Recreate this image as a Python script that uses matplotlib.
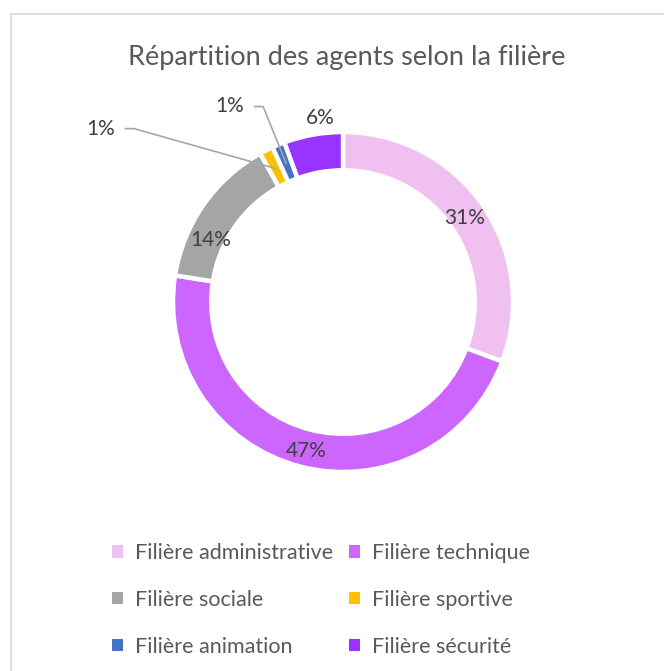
import matplotlib.pyplot as plt
from matplotlib.lines import Line2D
from matplotlib.patches import Patch
import numpy as np

plt.rcParams['font.family'] = ['Lato', 'DejaVu Sans']

# =========================
# Data
# =========================
filieres = ['Filière administrative', 'Filière technique', 'Filière sociale',
            'Filière sportive', 'Filière animation', 'Filière sécurité']
parts = [30.7, 46.8, 14.4, 1.3, 1.2, 5.6]
colors = ['#F0C0F0', '#CC66FF', '#A5A5A5', '#FFC000', '#4472C4', '#9933FF']

text_color = '#595959'
title = 'Répartition des agents selon la filière'

fig = plt.figure(figsize=(6.64, 6.71), dpi=100)

# light frame (top and left edges only visible)
fig.add_artist(Line2D([11/664, 11/664], [0, 1 - 14/671], color='#D9D9D9', lw=1.2))
fig.add_artist(Line2D([11/664, 1], [1 - 14/671, 1 - 14/671], color='#D9D9D9', lw=1.2))

ax = fig.add_axes([173/664, 199/671, 340/664, 340/671])
ax.set_axis_off()

wedges, _ = ax.pie(parts, colors=colors, startangle=90, counterclock=False,
                   radius=1.0,
                   wedgeprops=dict(width=0.225, edgecolor='white', linewidth=3.2))
ax.set_xlim(-1, 1)
ax.set_ylim(-1, 1)

# =========================
# Labels
# =========================
total = sum(parts)
pct_labels = ['%.0f%%' % (100 * v / total) for v in parts]

# (radius, angle shift) for labels placed in the ring / outside
inside = {0: (0.87, 0), 1: (0.9, 1), 2: (0.86, 10), 5: (1.09, -3)}
for i, w in enumerate(wedges):
    mid = np.deg2rad((w.theta1 + w.theta2) / 2)
    if i in inside:
        r, shift = inside[i]
        a = mid + np.deg2rad(shift)
        ax.text(r * np.cos(a), r * np.sin(a), pct_labels[i], ha='center', va='center',
                fontsize=15, color='#404040')

# small slices with leader lines: text x, text y, bend x
leaders = {3: (-1.34, 1.02, -1.23), 4: (-0.58, 1.15, -0.47)}
for i, (tx, ty, bend) in leaders.items():
    w = wedges[i]
    mid = np.deg2rad((w.theta1 + w.theta2) / 2)
    px, py = 0.88 * np.cos(mid), 0.88 * np.sin(mid)
    ax.plot([tx + 0.06, bend, px], [ty, ty, py], color='#A6A6A6', lw=1.2, clip_on=False)
    ax.text(tx, ty, pct_labels[i], ha='right', va='center', fontsize=15, color='#404040')

fig.text(347/664, 1 - 58/671, title, ha='center', va='center', fontsize=19.5, color=text_color)

# legend filled row by row
order = [0, 2, 4, 1, 3, 5]
handles = [Patch(facecolor=colors[k], edgecolor='none') for k in order]
fig.legend(handles, [filieres[k] for k in order], ncol=2, loc='center',
           bbox_to_anchor=(321/664, 1 - 600/671),
           frameon=False, fontsize=15.5, labelcolor=text_color,
           handlelength=0.5, handleheight=0.5, handletextpad=0.55,
           columnspacing=0.75, labelspacing=1.25)

fig.savefig('out.png', dpi=100)
